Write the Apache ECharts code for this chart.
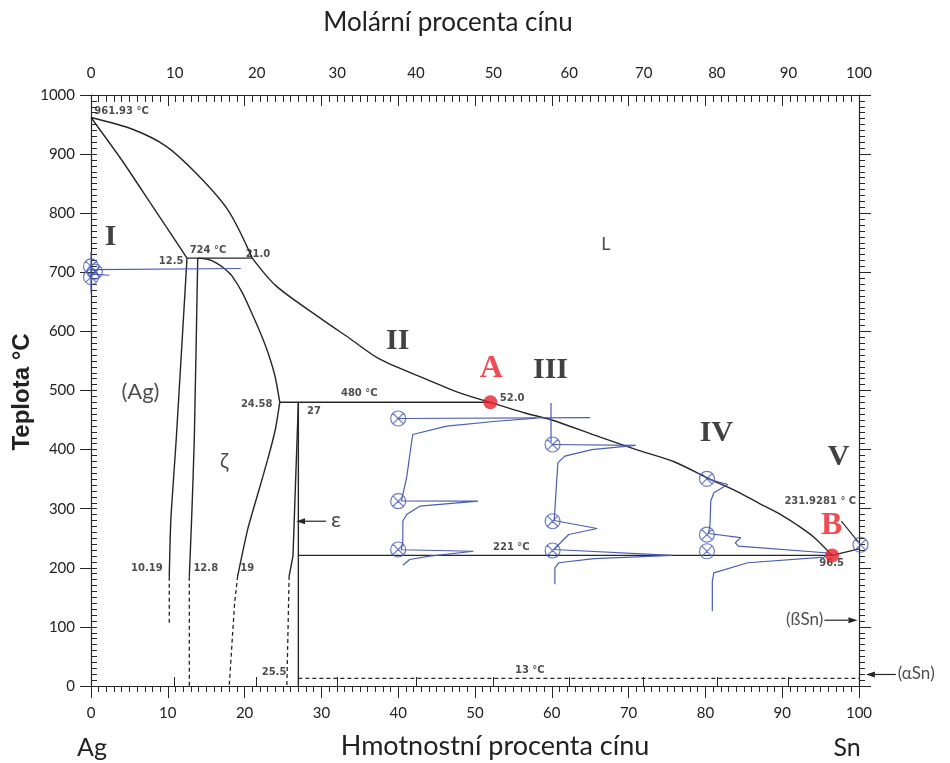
<!DOCTYPE html>
<html>
<head>
<meta charset="utf-8">
<script src="https://cdn.jsdelivr.net/npm/echarts@6/dist/echarts.min.js"></script>
<style>
  html, body { margin: 0; padding: 0; background: #fff; }
  #chart { width: 950px; height: 763px; }
</style>
</head>
<body>
<div id="chart"></div>
<script>
// Ag–Sn phase diagram (weight % Sn vs temperature) with cooling curves I–V.

const AG_MASS = 107.8682;
const SN_MASS = 118.71;

const tempTicks = [0, 100, 200, 300, 400, 500, 600, 700, 800, 900, 1000];
const weightTicks = [0, 10, 20, 30, 40, 50, 60, 70, 80, 90, 100];
const molarTicks = [0, 10, 20, 30, 40, 50, 60, 70, 80, 90, 100];

// Phase boundaries, [wt% Sn, °C]
const liquidusAg = [[0, 961.93], [5.4, 942], [9.8, 913], [14.1, 862], [17.9, 804], [21.0, 724]];
const liquidusMid = [[21.0, 724], [24.1, 677], [29.8, 623], [33.7, 588], [37.6, 553], [43.7, 519], [48.0, 496], [52.0, 480]];
const liquidusSn = [[52.0, 480], [56.5, 462], [59.8, 451], [66.3, 421], [71.0, 400], [76.0, 379], [80.7, 349], [83.7, 332], [87.0, 309], [89.8, 290], [92.0, 272], [94.2, 251], [96.5, 221]];
const snBranch = [[96.5, 221], [100, 231.93]];
const solidusAg = [[0, 961.93], [4, 890], [8, 812], [12.5, 724]];
const peritectic724 = [[12.5, 724], [21.0, 724]];
const solvusAg = [[12.5, 724], [11.1, 418], [10.4, 282], [10.19, 185]];
const solvusAgDashed = [[10.19, 185], [10.19, 105]];
const zetaLeft = [[13.9, 724], [13.45, 418], [13.1, 282], [12.8, 185]];
const zetaLeftDashed = [[12.8, 185], [12.8, 0]];
const zetaUpper = [[13.9, 724], [15.2, 722], [16.3, 716], [17.4, 706], [18.4, 693], [19.8, 663], [21.1, 626], [22.2, 593], [23.2, 558], [24.0, 522], [24.58, 480]];
const zetaLower = [[24.58, 480], [24.0, 434], [23.0, 383], [21.7, 324], [20.4, 265], [19.1, 186]];
const zetaDashed = [[19.1, 186], [18.7, 141], [18.0, 0]];
const epsilonLeft = [[27, 480], [26.3, 220], [25.8, 186]];
const epsilonLeftDashed = [[25.8, 186], [25.5, 0]];
const epsilonRight = [[27, 480], [27, 0]];
const iso480 = [[24.58, 480], [52.0, 480]];
const iso221 = [[27, 221], [96.5, 221]];
const iso13 = [[27, 13], [100, 13]];
const snLeader = [[97.7, 279], [99.9, 244]];

// Cooling curves
const coolingIStem = [[0, 734], [0, 666]];
const coolingILine = [[0.2, 704.6], [19.5, 706.4]];
const coolingIShort = [[0.2, 697], [2.4, 695]];
const coolingIMarks = [[0, 710], [0.5, 701], [0, 692]];

const coolingIITop = [[40, 452.6], [65, 454]];
const coolingIICurve = [[58, 453.2], [52.8, 448], [46.3, 439.6], [41.9, 425.5], [41.7, 408.6], [41.1, 352.8], [40.6, 324], [40.4, 313], [50.4, 312.7], [42.8, 304.2], [41.1, 290.2], [40.6, 278.8], [40.6, 245], [40.4, 230.5], [49.8, 228], [44.1, 219.6], [41.5, 214], [40.6, 204.4]];
const coolingIIMarks = [[40, 452.6], [40, 312.7], [40, 231]];

const coolingIIIStem = [[59.9, 479], [59.9, 413]];
const coolingIIITop = [[60.1, 408.6], [70.9, 407]];
const coolingIIICurve = [[70.9, 407], [65.2, 400], [61.7, 389], [60.8, 378], [60.6, 341], [60.4, 296], [60.3, 280], [65.9, 266.5], [62.2, 256.3], [60.9, 239.4], [60.3, 231], [75.7, 221], [65.5, 215.6], [60.9, 208.5], [60.4, 200], [60.4, 172]];
const coolingIIIMarks = [[60.1, 408.6], [60.1, 278.8], [60.1, 229.3]];

const coolingIVCurve = [[80.2, 351], [82.9, 341], [81.1, 327], [80.7, 313], [80.6, 273], [80.4, 258], [84.6, 251], [83.9, 242.3], [84.3, 236.7], [96.0, 225], [95.5, 218], [85.5, 208.5], [81.1, 191.5], [80.9, 177], [80.9, 126.5]];
const coolingIVMarks = [[80.2, 350.6], [80.2, 256.3], [80.2, 228]];

const coolingVCurve = [[100.9, 243], [106, 238], [112, 231], [106, 226], [102.9, 222.5], [101.6, 211], [101, 194], [100.6, 177]];
const coolingVMarks = [[100.2, 239]];

const pointA = [52.0, 480];
const pointB = [96.5, 221];

// Text annotations: [text, wt% Sn, °C, anchor]
const valueNotes = [
  ['961.93 °C', 0.5, 971.6, 'left'],
  ['724 °C', 15.3, 735.7, 'center'],
  ['12.5', 12.1, 717.8, 'right'],
  ['21.0', 20.2, 729, 'left'],
  ['24.58', 23.7, 475, 'right'],
  ['27', 28.2, 464, 'left'],
  ['480 °C', 35.0, 494.4, 'center'],
  ['52.0', 53.3, 486, 'left'],
  ['221 °C', 54.8, 233.8, 'center'],
  ['13 °C', 57.2, 26, 'center'],
  ['96.5', 96.5, 207, 'center'],
  ['231.9281 ° C', 99.7, 311, 'right'],
  ['10.19', 9.4, 198, 'right'],
  ['12.8', 13.4, 198, 'left'],
  ['19', 19.5, 198, 'left'],
  ['25.5', 25.5, 22.3, 'right']
];
const romanNotes = [['I', 2.6, 758], ['II', 40, 582], ['III', 59.9, 534], ['IV', 81.5, 427], ['V', 97.4, 386]];
const pointNotes = [['A', 52.2, 535.5], ['B', 96.5, 270.4]];
const phaseNotes = [
  ['L', 67.1, 747, 'center', 18],
  ['(Ag)', 6.5, 496.6, 'center', 22],
  ['ζ', 17.4, 380, 'center', 21],
  ['ε', 31.3, 280, 'left', 22],
  ['(ßSn)', 95.4, 111.3, 'right', 17],
  ['(αSn)', 105.1, 19.5, 'left', 17]
];
// Pointer arrows: [x from, T from, x to, T to]
const arrows = [
  [30.6, 278.8, 26.7, 278.8],
  [95.5, 111.3, 99.8, 111.3],
  [104.8, 19.5, 100.9, 19.5]
];

const toWeight = m => 100 * m * SN_MASS / (m * SN_MASS + (100 - m) * AG_MASS);
const toMolar = w => 100 * (w / SN_MASS) / (w / SN_MASS + (100 - w) / AG_MASS);
const molarAsWeight = molarTicks.map(toWeight);

const INK = '#262626';
const BLUE = '#4a5db2';
const RED = '#e8202a';
const CROSS_CIRCLE = 'path://M10,0A10,10 0 1,1 -10,0A10,10 0 1,1 10,0Z M-7.07,-7.07L7.07,7.07M7.07,-7.07L-7.07,7.07';

function boundary(data, opts) {
  return Object.assign({
    type: 'line', data: data, symbol: 'none', silent: true, clip: false,
    lineStyle: { color: INK, width: 1.4 }, z: 3
  }, opts || {});
}
function dashed(data) {
  return boundary(data, { lineStyle: { color: INK, width: 1.3, type: [4, 3] } });
}
function cooling(data) {
  return {
    type: 'line', data: data, symbol: 'none', silent: true, clip: false,
    lineStyle: { color: BLUE, width: 1.2 }, z: 4
  };
}
function marks(data) {
  return {
    type: 'scatter', data: data, symbol: CROSS_CIRCLE, symbolSize: 15, silent: true, clip: false,
    itemStyle: { color: 'rgba(0,0,0,0)', borderColor: BLUE, borderWidth: 1.2 }, z: 5
  };
}
function textSeries(items, style) {
  return {
    type: 'scatter', silent: true, clip: false, symbolSize: 1, z: 6,
    itemStyle: { color: 'rgba(0,0,0,0)' },
    data: items.map(it => ({
      value: [it[1], it[2]],
      label: Object.assign({
        show: true, position: [0, 0], formatter: it[0],
        align: it[3] || 'center', verticalAlign: 'middle'
      }, style, it[4] ? { fontSize: it[4] } : {})
    }))
  };
}

// Arrow: shaft plus a filled head at the target point
const arrowSeries = {
  type: 'custom', coordinateSystem: 'cartesian2d', silent: true, clip: false, z: 5,
  data: arrows,
  encode: { x: [0, 2], y: [1, 3] },
  renderItem: (params, api) => {
    const p0 = api.coord([api.value(0), api.value(1)]);
    const p1 = api.coord([api.value(2), api.value(3)]);
    const ang = Math.atan2(p1[1] - p0[1], p1[0] - p0[0]);
    const len = 9, half = 3;
    const bx = p1[0] - len * Math.cos(ang), by = p1[1] - len * Math.sin(ang);
    const nx = -Math.sin(ang) * half, ny = Math.cos(ang) * half;
    return {
      type: 'group',
      children: [
        { type: 'line', shape: { x1: p0[0], y1: p0[1], x2: bx, y2: by }, style: { stroke: INK, lineWidth: 1.2 } },
        { type: 'polygon', shape: { points: [[p1[0], p1[1]], [bx + nx, by + ny], [bx - nx, by - ny]] }, style: { fill: INK } }
      ]
    };
  }
};

const chart = echarts.init(document.getElementById('chart'), null, { renderer: 'canvas' });

const baseAxisLine = { show: true, onZero: false, lineStyle: { color: INK, width: 1.2 } };
const tickFont = { fontFamily: 'Lato', fontSize: 15, color: '#222' };

const option = {
  animation: false,
  backgroundColor: '#fff',
  grid: { left: 91, right: 91, top: 95, bottom: 77, containLabel: false, outerBoundsMode: 'none' },
  xAxis: [
    {
      type: 'value', position: 'bottom', min: 0, max: 100, interval: 10,
      axisLine: baseAxisLine,
      axisTick: { show: true, length: 12, lineStyle: { color: INK } },
      minorTick: { show: true, splitNumber: 10, length: 6, lineStyle: { color: INK } },
      axisLabel: Object.assign({ margin: 20, customValues: weightTicks, formatter: v => String(v) }, tickFont),
      splitLine: { show: false }
    },
    {
      type: 'value', position: 'top', min: 0, max: 100, interval: 10,
      axisLine: baseAxisLine,
      axisTick: { show: true, inside: true, length: 11, lineStyle: { color: INK } },
      minorTick: { show: true, splitNumber: 10, length: 7, lineStyle: { color: INK } },
      axisLabel: { show: false },
      splitLine: { show: false }
    },
    {
      type: 'value', position: 'top', min: 0, max: 100,
      axisLine: { show: false },
      axisTick: { show: true, length: 9, customValues: molarAsWeight, lineStyle: { color: INK } },
      axisLabel: Object.assign({
        margin: 14, customValues: molarAsWeight,
        formatter: v => String(Math.round(toMolar(v)))
      }, tickFont),
      splitLine: { show: false }
    }
  ],
  yAxis: [
    {
      type: 'value', position: 'left', min: 0, max: 1000, interval: 100,
      axisLine: baseAxisLine,
      axisTick: { show: true, length: 11, lineStyle: { color: INK } },
      axisLabel: Object.assign({ margin: 16, customValues: tempTicks, formatter: v => String(v) }, tickFont),
      splitLine: { show: false }
    },
    {
      type: 'value', position: 'left', min: 0, max: 1000, interval: 100,
      axisLine: { show: false },
      axisTick: { show: true, inside: true, length: 6, lineStyle: { color: INK } },
      minorTick: { show: true, splitNumber: 10, length: 6, lineStyle: { color: INK } },
      axisLabel: { show: false },
      splitLine: { show: false }
    },
    {
      type: 'value', position: 'right', min: 0, max: 1000, interval: 100,
      axisLine: baseAxisLine,
      axisTick: { show: true, length: 12, lineStyle: { color: INK } },
      minorTick: { show: true, splitNumber: 10, length: 6, lineStyle: { color: INK } },
      axisLabel: { show: false },
      splitLine: { show: false }
    }
  ],
  graphic: [
    { type: 'text', x: 448, y: 23, style: { text: 'Molární procenta cínu', font: '26px Lato', fill: '#222', align: 'center', verticalAlign: 'middle' } },
    { type: 'text', x: 495, y: 746, style: { text: 'Hmotnostní procenta cínu', font: '27px Lato', fill: '#222', align: 'center', verticalAlign: 'middle' } },
    { type: 'text', x: 92, y: 748, style: { text: 'Ag', font: '25px Lato', fill: '#222', align: 'center', verticalAlign: 'middle' } },
    { type: 'text', x: 847, y: 748, style: { text: 'Sn', font: '25px Lato', fill: '#222', align: 'center', verticalAlign: 'middle' } },
    { type: 'text', x: 22, y: 392, rotation: Math.PI / 2, style: { text: 'Teplota °C', font: 'bold 24px "Liberation Sans"', fill: '#222', align: 'center', verticalAlign: 'middle' } }
  ],
  series: [
    boundary(liquidusAg, { smooth: 0.3 }),
    boundary(liquidusMid, { smooth: 0.3 }),
    boundary(liquidusSn, { smooth: 0.3 }),
    boundary(snBranch),
    boundary(solidusAg, { smooth: 0.2 }),
    boundary(peritectic724),
    boundary(solvusAg, { smooth: 0.2 }),
    dashed(solvusAgDashed),
    boundary(zetaLeft, { smooth: 0.2 }),
    dashed(zetaLeftDashed),
    boundary(zetaUpper, { smooth: 0.2 }),
    boundary(zetaLower, { smooth: 0.2 }),
    dashed(zetaDashed),
    boundary(epsilonLeft),
    dashed(epsilonLeftDashed),
    boundary(epsilonRight),
    boundary(iso480),
    boundary(iso221),
    dashed(iso13),
    boundary(snLeader, { lineStyle: { color: INK, width: 1.2 } }),
    arrowSeries,

    cooling(coolingIStem),
    cooling(coolingILine),
    cooling(coolingIShort),
    marks(coolingIMarks),
    cooling(coolingIITop),
    cooling(coolingIICurve),
    marks(coolingIIMarks),
    cooling(coolingIIIStem),
    cooling(coolingIIITop),
    cooling(coolingIIICurve),
    marks(coolingIIIMarks),
    cooling(coolingIVCurve),
    marks(coolingIVMarks),
    cooling(coolingVCurve),
    marks(coolingVMarks),

    {
      type: 'scatter', data: [pointA, pointB], symbolSize: 14, silent: true, clip: false,
      itemStyle: { color: RED }, z: 7
    },

    textSeries(valueNotes, { fontFamily: '"DejaVu Sans"', fontWeight: 'bold', fontSize: 10, color: '#222' }),
    textSeries(romanNotes, {
      fontFamily: '"Liberation Serif"', fontWeight: 'bold', fontSize: 30, color: '#111',
      textShadowColor: 'rgba(230,140,30,0.8)', textShadowOffsetX: -1.5, textShadowBlur: 0
    }),
    textSeries(pointNotes, { fontFamily: '"Liberation Serif"', fontWeight: 'bold', fontSize: 32, color: RED }),
    textSeries(phaseNotes, { fontFamily: 'Lato', fontSize: 20, color: '#222' })
  ]
};

chart.setOption(option);
</script>
</body>
</html>
